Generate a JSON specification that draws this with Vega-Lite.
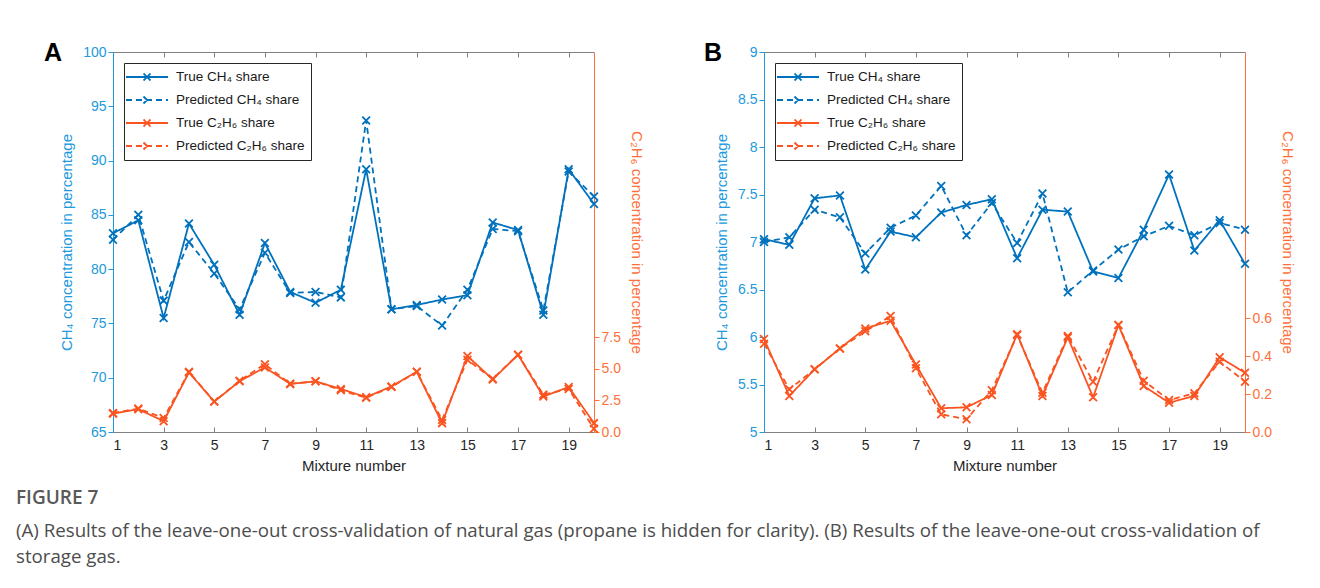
{
  "$schema": "https://vega.github.io/schema/vega-lite/v6.json",
  "background": "white",
  "padding": {"left": 16, "top": 41, "right": 5, "bottom": 5},
  "datasets": {
    "a": [
      {"mix": 1, "ch4_true": 83.3, "ch4_pred": 82.7, "c2h6_true": 1.45, "c2h6_pred": 1.5},
      {"mix": 2, "ch4_true": 84.5, "ch4_pred": 85.0, "c2h6_true": 1.8, "c2h6_pred": 1.85},
      {"mix": 3, "ch4_true": 75.5, "ch4_pred": 77.1, "c2h6_true": 0.85, "c2h6_pred": 1.1},
      {"mix": 4, "ch4_true": 84.2, "ch4_pred": 82.5, "c2h6_true": 4.7, "c2h6_pred": 4.75},
      {"mix": 5, "ch4_true": 80.4, "ch4_pred": 79.6, "c2h6_true": 2.4, "c2h6_pred": 2.4},
      {"mix": 6, "ch4_true": 75.8, "ch4_pred": 76.3, "c2h6_true": 4.0, "c2h6_pred": 4.05},
      {"mix": 7, "ch4_true": 82.4, "ch4_pred": 81.5, "c2h6_true": 5.1, "c2h6_pred": 5.35},
      {"mix": 8, "ch4_true": 77.9, "ch4_pred": 77.8, "c2h6_true": 3.8, "c2h6_pred": 3.8},
      {"mix": 9, "ch4_true": 76.9, "ch4_pred": 77.9, "c2h6_true": 4.0, "c2h6_pred": 4.0},
      {"mix": 10, "ch4_true": 78.1, "ch4_pred": 77.4, "c2h6_true": 3.4, "c2h6_pred": 3.3},
      {"mix": 11, "ch4_true": 89.2, "ch4_pred": 93.7, "c2h6_true": 2.75, "c2h6_pred": 2.7},
      {"mix": 12, "ch4_true": 76.3, "ch4_pred": 76.3, "c2h6_true": 3.6, "c2h6_pred": 3.55},
      {"mix": 13, "ch4_true": 76.7, "ch4_pred": 76.6, "c2h6_true": 4.75, "c2h6_pred": 4.75},
      {"mix": 14, "ch4_true": 77.2, "ch4_pred": 74.8, "c2h6_true": 0.7, "c2h6_pred": 0.95},
      {"mix": 15, "ch4_true": 77.6, "ch4_pred": 78.1, "c2h6_true": 6.0, "c2h6_pred": 5.7},
      {"mix": 16, "ch4_true": 84.3, "ch4_pred": 83.7, "c2h6_true": 4.15, "c2h6_pred": 4.2},
      {"mix": 17, "ch4_true": 83.6, "ch4_pred": 83.5, "c2h6_true": 6.1, "c2h6_pred": 6.1},
      {"mix": 18, "ch4_true": 75.8, "ch4_pred": 76.2, "c2h6_true": 2.8, "c2h6_pred": 2.95},
      {"mix": 19, "ch4_true": 89.2, "ch4_pred": 89.0, "c2h6_true": 3.55, "c2h6_pred": 3.4},
      {"mix": 20, "ch4_true": 86.0, "ch4_pred": 86.7, "c2h6_true": 0.7, "c2h6_pred": 0.25}
    ],
    "b": [
      {"mix": 1, "ch4_true": 7.03, "ch4_pred": 7.0, "c2h6_true": 0.49, "c2h6_pred": 0.465},
      {"mix": 2, "ch4_true": 6.97, "ch4_pred": 7.05, "c2h6_true": 0.19, "c2h6_pred": 0.225},
      {"mix": 3, "ch4_true": 7.46, "ch4_pred": 7.34, "c2h6_true": 0.33, "c2h6_pred": 0.33},
      {"mix": 4, "ch4_true": 7.49, "ch4_pred": 7.26, "c2h6_true": 0.44, "c2h6_pred": 0.44},
      {"mix": 5, "ch4_true": 6.71, "ch4_pred": 6.88, "c2h6_true": 0.545, "c2h6_pred": 0.53},
      {"mix": 6, "ch4_true": 7.11, "ch4_pred": 7.15, "c2h6_true": 0.585, "c2h6_pred": 0.61},
      {"mix": 7, "ch4_true": 7.05, "ch4_pred": 7.28, "c2h6_true": 0.355, "c2h6_pred": 0.335},
      {"mix": 8, "ch4_true": 7.31, "ch4_pred": 7.59, "c2h6_true": 0.125, "c2h6_pred": 0.093},
      {"mix": 9, "ch4_true": 7.39, "ch4_pred": 7.07, "c2h6_true": 0.13, "c2h6_pred": 0.067},
      {"mix": 10, "ch4_true": 7.45, "ch4_pred": 7.41, "c2h6_true": 0.195, "c2h6_pred": 0.22},
      {"mix": 11, "ch4_true": 6.83, "ch4_pred": 6.99, "c2h6_true": 0.515, "c2h6_pred": 0.51},
      {"mix": 12, "ch4_true": 7.34, "ch4_pred": 7.51, "c2h6_true": 0.19, "c2h6_pred": 0.207},
      {"mix": 13, "ch4_true": 7.32, "ch4_pred": 6.47, "c2h6_true": 0.498, "c2h6_pred": 0.505},
      {"mix": 14, "ch4_true": 6.69, "ch4_pred": 6.7, "c2h6_true": 0.183, "c2h6_pred": 0.265},
      {"mix": 15, "ch4_true": 6.62, "ch4_pred": 6.92, "c2h6_true": 0.563, "c2h6_pred": 0.563},
      {"mix": 16, "ch4_true": 7.13, "ch4_pred": 7.06, "c2h6_true": 0.242, "c2h6_pred": 0.27},
      {"mix": 17, "ch4_true": 7.71, "ch4_pred": 7.17, "c2h6_true": 0.154, "c2h6_pred": 0.168},
      {"mix": 18, "ch4_true": 6.91, "ch4_pred": 7.07, "c2h6_true": 0.19, "c2h6_pred": 0.204},
      {"mix": 19, "ch4_true": 7.23, "ch4_pred": 7.2, "c2h6_true": 0.393, "c2h6_pred": 0.37},
      {"mix": 20, "ch4_true": 6.77, "ch4_pred": 7.13, "c2h6_true": 0.312, "c2h6_pred": 0.265}
    ]
  },
  "title": {
    "text": "FIGURE 7",
    "subtitle": ["(A) Results of the leave-one-out cross-validation of natural gas (propane is hidden for clarity). (B) Results of the leave-one-out cross-validation of", "storage gas."],
    "orient": "bottom",
    "anchor": "start",
    "frame": "bounds",
    "offset": 16,
    "dx": -28,
    "font": "Open Sans",
    "fontSize": 19,
    "fontWeight": 600,
    "color": "#595959",
    "subtitleFont": "Open Sans",
    "subtitleFontSize": 18.7,
    "subtitleColor": "#4d4d4d",
    "subtitleLineHeight": 26,
    "subtitlePadding": 14
  },
  "hconcat": [
    {
      "width": 481,
      "height": 380,
      "data": {"name": "a"},
      "title": {"text": "A", "anchor": "start", "frame": "group", "dx": -69, "dy": 11, "offset": -10, "font": "Liberation Sans", "fontSize": 25, "fontWeight": "bold", "color": "#000000"},
      "layer": [
        {
          "transform": [{"fold": ["ch4_true", "ch4_pred"], "as": ["series", "value"]}],
          "encoding": {
            "x": {"field": "mix", "type": "quantitative", "scale": {"domain": [1, 20], "nice": false, "zero": false},
              "axis": {"orient": "bottom", "values": [1, 3, 5, 7, 9, 11, 13, 15, 17, 19], "tickSize": -5, "labelPadding": 11, "title": "Mixture number", "titlePadding": 6}},
            "y": {"field": "value", "type": "quantitative", "scale": {"domain": [65, 100], "nice": false, "zero": false},
              "axis": {"orient": "left", "values": [65, 70, 75, 80, 85, 90, 95, 100], "format": "~r", "domainColor": "#2299DD", "tickColor": "#2299DD", "labelColor": "#2299DD", "titleColor": "#2299DD", "title": "CH₄ concentration in percentage", "titlePadding": 8}},
            "color": {"field": "series", "type": "nominal",
              "scale": {"domain": ["ch4_true", "ch4_pred", "c2h6_true", "c2h6_pred"], "range": ["#0072BD", "#0072BD", "#FA5421", "#FA5421"]},
              "legend": {"title": null, "orient": "top-left", "offset": 11, "fillColor": "#ffffff", "strokeColor": "#262626", "padding": 6, "symbolType": "M-3,0L3,0M-0.5,-0.5L0.5,0.5M-0.5,0.5L0.5,-0.5", "symbolSize": 196, "symbolStrokeWidth": 1.8, "symbolOffset": 9, "labelOffset": 21, "labelFont": "Liberation Sans", "labelFontSize": 13.5, "labelColor": "#1a1a1a", "rowPadding": 7, "labelExpr": "{'ch4_true':'True CH₄ share','ch4_pred':'Predicted CH₄ share','c2h6_true':'True C₂H₆ share','c2h6_pred':'Predicted C₂H₆ share'}[datum.label]"}}
          },
          "layer": [
            {"mark": {"type": "line", "strokeWidth": 1.8},
              "encoding": {"strokeDash": {"field": "series", "type": "nominal", "scale": {"domain": ["ch4_true", "ch4_pred", "c2h6_true", "c2h6_pred"], "range": [[1, 0], [6, 4], [1, 0], [6, 4]]},
                "legend": {"title": null, "orient": "top-left", "offset": 11, "fillColor": "#ffffff", "strokeColor": "#262626", "padding": 6, "symbolType": "M-3,0L3,0M-0.5,-0.5L0.5,0.5M-0.5,0.5L0.5,-0.5", "symbolSize": 196, "symbolStrokeWidth": 1.8, "symbolOffset": 9, "labelOffset": 21, "labelFont": "Liberation Sans", "labelFontSize": 13.5, "labelColor": "#1a1a1a", "rowPadding": 7, "labelExpr": "{'ch4_true':'True CH₄ share','ch4_pred':'Predicted CH₄ share','c2h6_true':'True C₂H₆ share','c2h6_pred':'Predicted C₂H₆ share'}[datum.label]"}}}},
            {"mark": {"type": "point", "shape": "M-1,-1L1,1M-1,1L1,-1", "filled": false, "size": 60, "strokeWidth": 1.8, "opacity": 1}}
          ]
        },
        {
          "transform": [{"fold": ["c2h6_true", "c2h6_pred"], "as": ["series", "value"]}],
          "encoding": {
            "x": {"field": "mix", "type": "quantitative", "scale": {"domain": [1, 20], "nice": false, "zero": false},
              "axis": {"orient": "top", "values": [1, 3, 5, 7, 9, 11, 13, 15, 17, 19], "tickSize": -5, "labels": false, "title": null}},
            "y": {"field": "value", "type": "quantitative", "scale": {"domain": [0, 30], "nice": false, "zero": false},
              "axis": {"orient": "right", "values": [0, 2.5, 5, 7.5], "format": ".1f", "domainColor": "#FF6F3C", "tickColor": "#FF6F3C", "labelColor": "#FF6F3C", "titleColor": "#FF6F3C", "title": "C₂H₆ concentration in percentage", "titlePadding": 8}},
            "color": {"field": "series", "type": "nominal",
              "scale": {"domain": ["ch4_true", "ch4_pred", "c2h6_true", "c2h6_pred"], "range": ["#0072BD", "#0072BD", "#FA5421", "#FA5421"]},
              "legend": {"title": null, "orient": "top-left", "offset": 11, "fillColor": "#ffffff", "strokeColor": "#262626", "padding": 6, "symbolType": "M-3,0L3,0M-0.5,-0.5L0.5,0.5M-0.5,0.5L0.5,-0.5", "symbolSize": 196, "symbolStrokeWidth": 1.8, "symbolOffset": 9, "labelOffset": 21, "labelFont": "Liberation Sans", "labelFontSize": 13.5, "labelColor": "#1a1a1a", "rowPadding": 7, "labelExpr": "{'ch4_true':'True CH₄ share','ch4_pred':'Predicted CH₄ share','c2h6_true':'True C₂H₆ share','c2h6_pred':'Predicted C₂H₆ share'}[datum.label]"}}
          },
          "layer": [
            {"mark": {"type": "line", "strokeWidth": 1.8},
              "encoding": {"strokeDash": {"field": "series", "type": "nominal", "scale": {"domain": ["ch4_true", "ch4_pred", "c2h6_true", "c2h6_pred"], "range": [[1, 0], [6, 4], [1, 0], [6, 4]]},
                "legend": {"title": null, "orient": "top-left", "offset": 11, "fillColor": "#ffffff", "strokeColor": "#262626", "padding": 6, "symbolType": "M-3,0L3,0M-0.5,-0.5L0.5,0.5M-0.5,0.5L0.5,-0.5", "symbolSize": 196, "symbolStrokeWidth": 1.8, "symbolOffset": 9, "labelOffset": 21, "labelFont": "Liberation Sans", "labelFontSize": 13.5, "labelColor": "#1a1a1a", "rowPadding": 7, "labelExpr": "{'ch4_true':'True CH₄ share','ch4_pred':'Predicted CH₄ share','c2h6_true':'True C₂H₆ share','c2h6_pred':'Predicted C₂H₆ share'}[datum.label]"}}}},
            {"mark": {"type": "point", "shape": "M-1,-1L1,1M-1,1L1,-1", "filled": false, "size": 60, "strokeWidth": 1.8, "opacity": 1}}
          ]
        }
      ],
      "resolve": {"scale": {"x": "independent", "y": "independent"}}
    },
    {
      "width": 481,
      "height": 380,
      "data": {"name": "b"},
      "title": {"text": "B", "anchor": "start", "frame": "group", "dx": -60, "dy": 11, "offset": -10, "font": "Liberation Sans", "fontSize": 25, "fontWeight": "bold", "color": "#000000"},
      "layer": [
        {
          "transform": [{"fold": ["ch4_true", "ch4_pred"], "as": ["series", "value"]}],
          "encoding": {
            "x": {"field": "mix", "type": "quantitative", "scale": {"domain": [1, 20], "nice": false, "zero": false},
              "axis": {"orient": "bottom", "values": [1, 3, 5, 7, 9, 11, 13, 15, 17, 19], "tickSize": -5, "labelPadding": 11, "title": "Mixture number", "titlePadding": 6}},
            "y": {"field": "value", "type": "quantitative", "scale": {"domain": [5, 9], "nice": false, "zero": false},
              "axis": {"orient": "left", "values": [5, 5.5, 6, 6.5, 7, 7.5, 8, 8.5, 9], "format": "~r", "domainColor": "#2299DD", "tickColor": "#2299DD", "labelColor": "#2299DD", "titleColor": "#2299DD", "title": "CH₄ concentration in percentage", "titlePadding": 8}},
            "color": {"field": "series", "type": "nominal",
              "scale": {"domain": ["ch4_true", "ch4_pred", "c2h6_true", "c2h6_pred"], "range": ["#0072BD", "#0072BD", "#FA5421", "#FA5421"]},
              "legend": {"title": null, "orient": "top-left", "offset": 11, "fillColor": "#ffffff", "strokeColor": "#262626", "padding": 6, "symbolType": "M-3,0L3,0M-0.5,-0.5L0.5,0.5M-0.5,0.5L0.5,-0.5", "symbolSize": 196, "symbolStrokeWidth": 1.8, "symbolOffset": 9, "labelOffset": 21, "labelFont": "Liberation Sans", "labelFontSize": 13.5, "labelColor": "#1a1a1a", "rowPadding": 7, "labelExpr": "{'ch4_true':'True CH₄ share','ch4_pred':'Predicted CH₄ share','c2h6_true':'True C₂H₆ share','c2h6_pred':'Predicted C₂H₆ share'}[datum.label]"}}
          },
          "layer": [
            {"mark": {"type": "line", "strokeWidth": 1.8},
              "encoding": {"strokeDash": {"field": "series", "type": "nominal", "scale": {"domain": ["ch4_true", "ch4_pred", "c2h6_true", "c2h6_pred"], "range": [[1, 0], [6, 4], [1, 0], [6, 4]]},
                "legend": {"title": null, "orient": "top-left", "offset": 11, "fillColor": "#ffffff", "strokeColor": "#262626", "padding": 6, "symbolType": "M-3,0L3,0M-0.5,-0.5L0.5,0.5M-0.5,0.5L0.5,-0.5", "symbolSize": 196, "symbolStrokeWidth": 1.8, "symbolOffset": 9, "labelOffset": 21, "labelFont": "Liberation Sans", "labelFontSize": 13.5, "labelColor": "#1a1a1a", "rowPadding": 7, "labelExpr": "{'ch4_true':'True CH₄ share','ch4_pred':'Predicted CH₄ share','c2h6_true':'True C₂H₆ share','c2h6_pred':'Predicted C₂H₆ share'}[datum.label]"}}}},
            {"mark": {"type": "point", "shape": "M-1,-1L1,1M-1,1L1,-1", "filled": false, "size": 60, "strokeWidth": 1.8, "opacity": 1}}
          ]
        },
        {
          "transform": [{"fold": ["c2h6_true", "c2h6_pred"], "as": ["series", "value"]}],
          "encoding": {
            "x": {"field": "mix", "type": "quantitative", "scale": {"domain": [1, 20], "nice": false, "zero": false},
              "axis": {"orient": "top", "values": [1, 3, 5, 7, 9, 11, 13, 15, 17, 19], "tickSize": -5, "labels": false, "title": null}},
            "y": {"field": "value", "type": "quantitative", "scale": {"domain": [0, 2], "nice": false, "zero": false},
              "axis": {"orient": "right", "values": [0, 0.2, 0.4, 0.6], "format": ".1f", "domainColor": "#FF6F3C", "tickColor": "#FF6F3C", "labelColor": "#FF6F3C", "titleColor": "#FF6F3C", "title": "C₂H₆ concentration in percentage", "titlePadding": 8}},
            "color": {"field": "series", "type": "nominal",
              "scale": {"domain": ["ch4_true", "ch4_pred", "c2h6_true", "c2h6_pred"], "range": ["#0072BD", "#0072BD", "#FA5421", "#FA5421"]},
              "legend": {"title": null, "orient": "top-left", "offset": 11, "fillColor": "#ffffff", "strokeColor": "#262626", "padding": 6, "symbolType": "M-3,0L3,0M-0.5,-0.5L0.5,0.5M-0.5,0.5L0.5,-0.5", "symbolSize": 196, "symbolStrokeWidth": 1.8, "symbolOffset": 9, "labelOffset": 21, "labelFont": "Liberation Sans", "labelFontSize": 13.5, "labelColor": "#1a1a1a", "rowPadding": 7, "labelExpr": "{'ch4_true':'True CH₄ share','ch4_pred':'Predicted CH₄ share','c2h6_true':'True C₂H₆ share','c2h6_pred':'Predicted C₂H₆ share'}[datum.label]"}}
          },
          "layer": [
            {"mark": {"type": "line", "strokeWidth": 1.8},
              "encoding": {"strokeDash": {"field": "series", "type": "nominal", "scale": {"domain": ["ch4_true", "ch4_pred", "c2h6_true", "c2h6_pred"], "range": [[1, 0], [6, 4], [1, 0], [6, 4]]},
                "legend": {"title": null, "orient": "top-left", "offset": 11, "fillColor": "#ffffff", "strokeColor": "#262626", "padding": 6, "symbolType": "M-3,0L3,0M-0.5,-0.5L0.5,0.5M-0.5,0.5L0.5,-0.5", "symbolSize": 196, "symbolStrokeWidth": 1.8, "symbolOffset": 9, "labelOffset": 21, "labelFont": "Liberation Sans", "labelFontSize": 13.5, "labelColor": "#1a1a1a", "rowPadding": 7, "labelExpr": "{'ch4_true':'True CH₄ share','ch4_pred':'Predicted CH₄ share','c2h6_true':'True C₂H₆ share','c2h6_pred':'Predicted C₂H₆ share'}[datum.label]"}}}},
            {"mark": {"type": "point", "shape": "M-1,-1L1,1M-1,1L1,-1", "filled": false, "size": 60, "strokeWidth": 1.8, "opacity": 1}}
          ]
        }
      ],
      "resolve": {"scale": {"x": "independent", "y": "independent"}}
    }
  ],
  "spacing": 60,
  "resolve": {"scale": {"color": "independent", "strokeDash": "independent"}},
  "config": {
    "view": {"stroke": null},
    "axis": {"grid": false, "labelFont": "Liberation Sans", "titleFont": "Liberation Sans", "labelFontSize": 14, "titleFontSize": 15, "titleFontWeight": "normal", "labelColor": "#262626", "titleColor": "#262626", "domainColor": "#808080", "tickColor": "#808080", "tickSize": 5, "labelPadding": 2, "domainWidth": 1, "tickWidth": 1}
  }
}
